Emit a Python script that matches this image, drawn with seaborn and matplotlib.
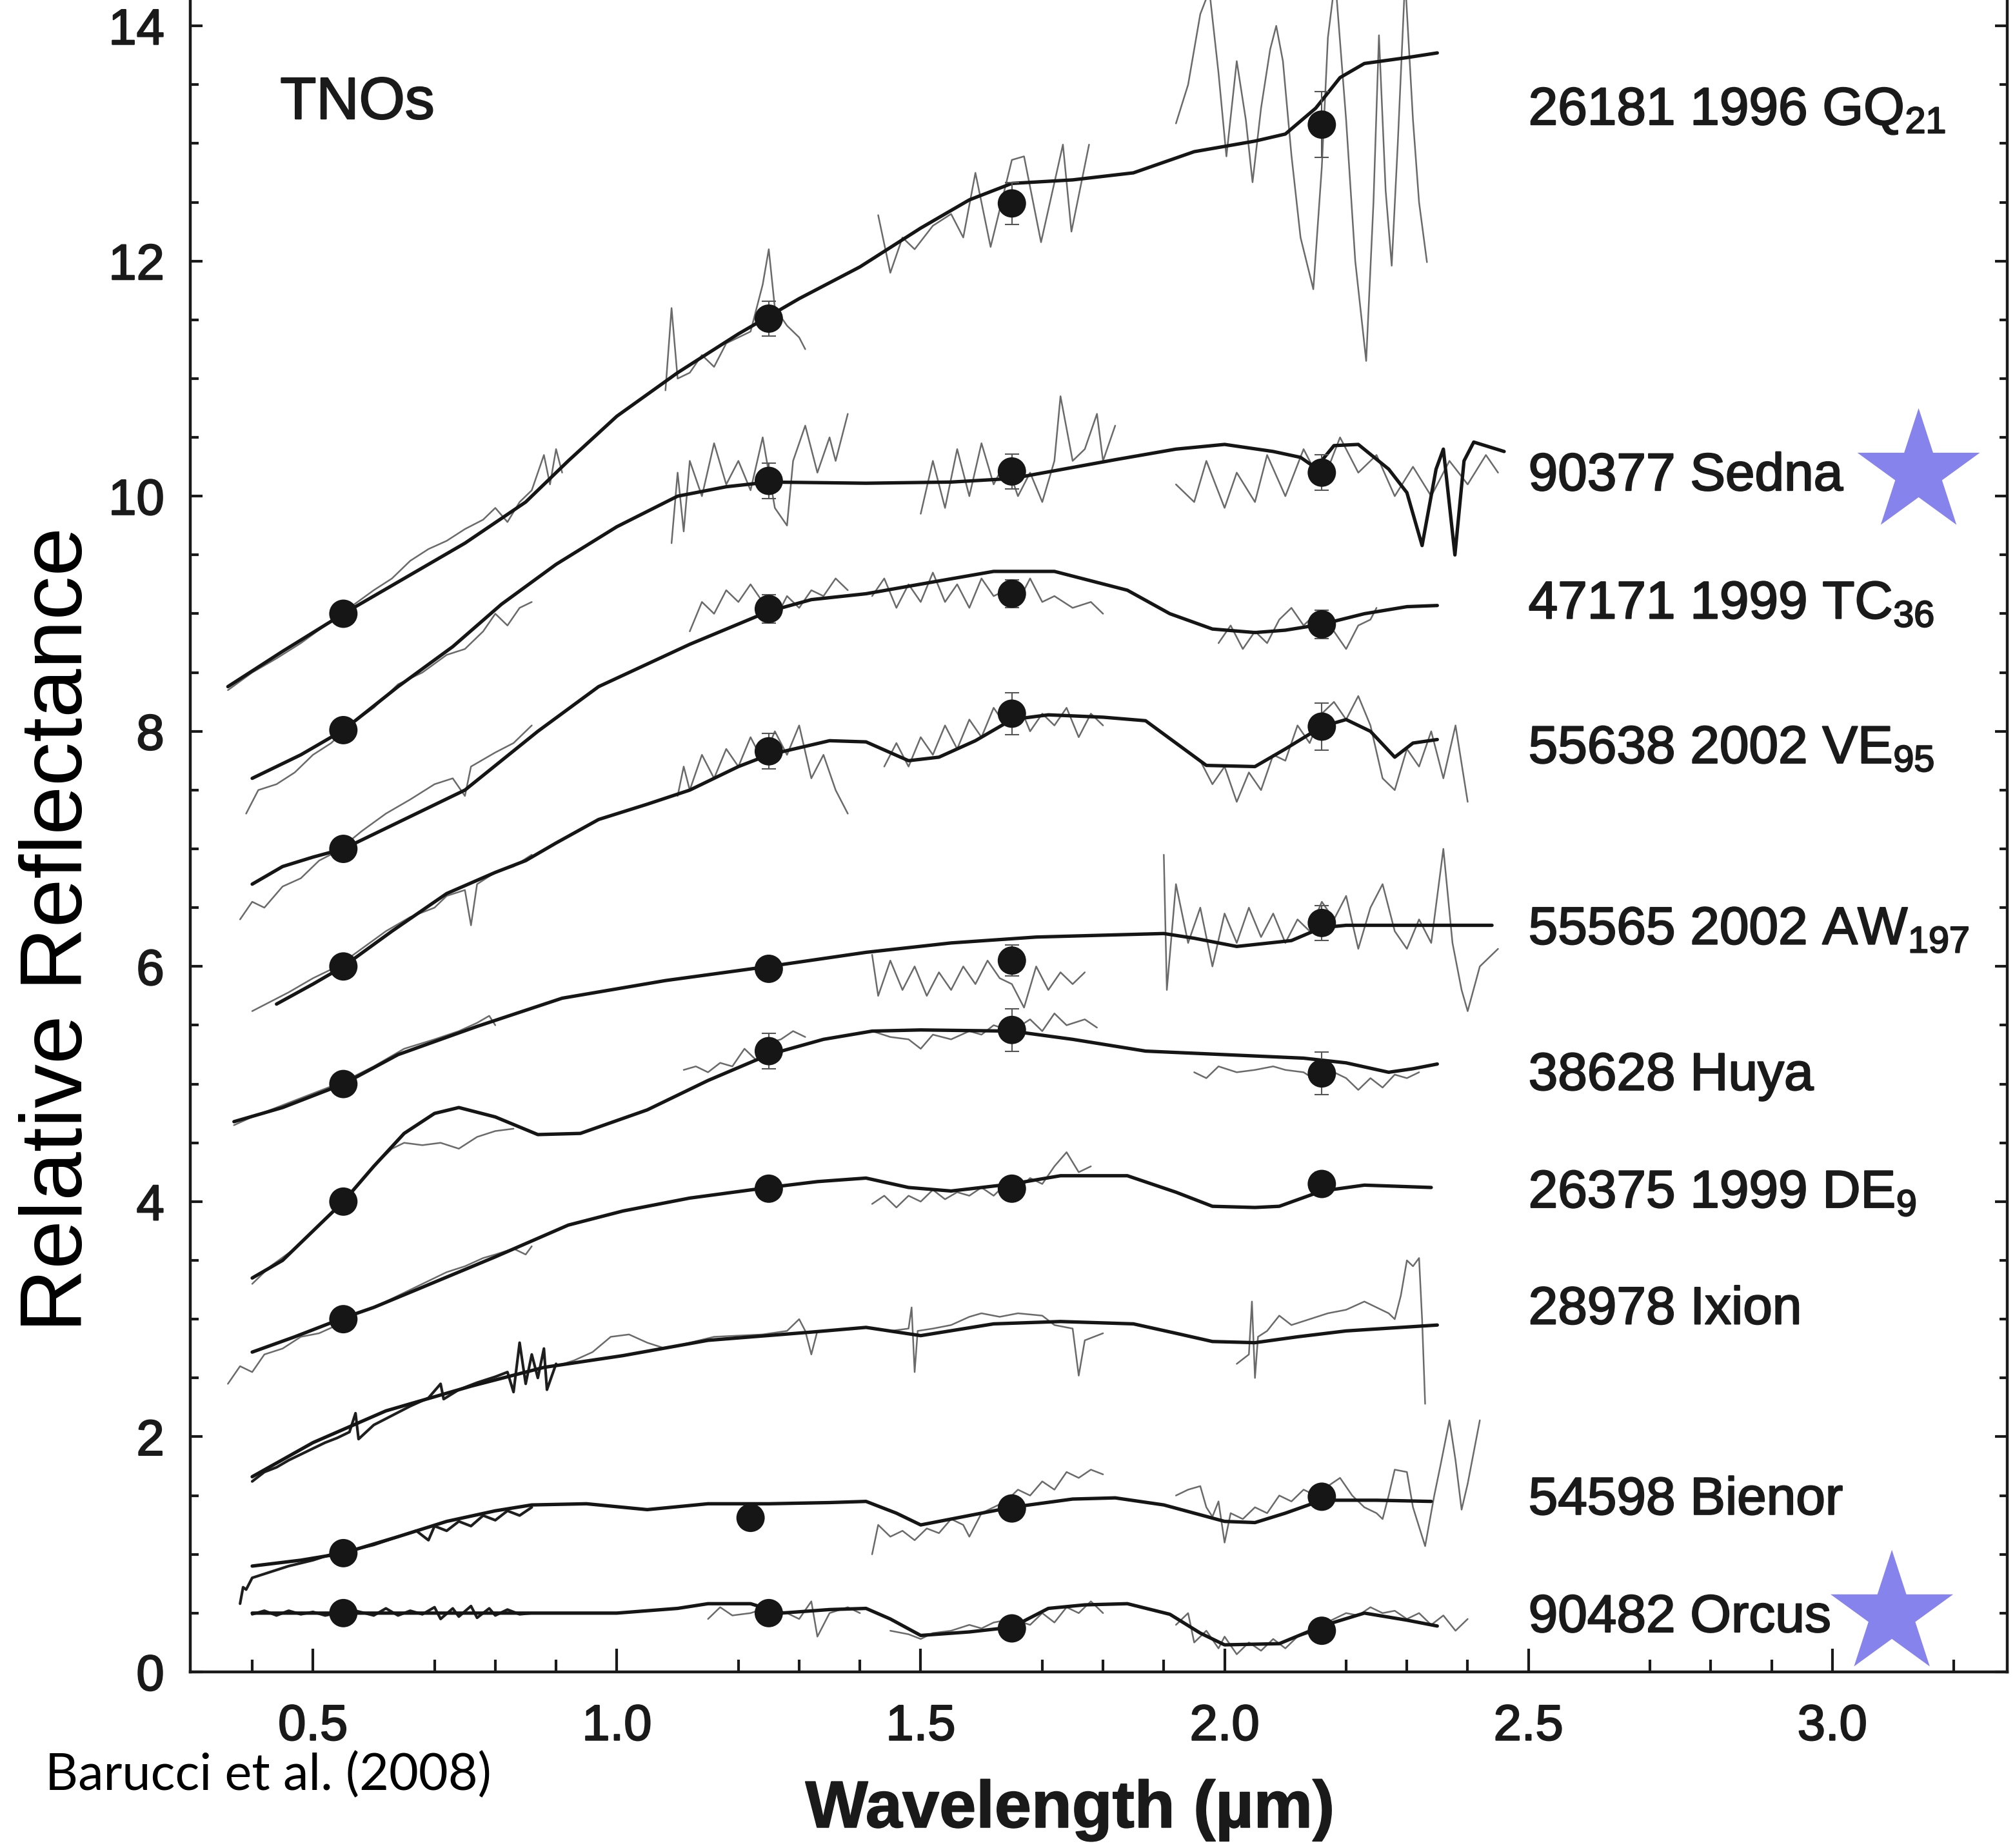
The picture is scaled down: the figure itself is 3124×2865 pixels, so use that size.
import pandas as pd
import seaborn as sns
import matplotlib.pyplot as plt
import matplotlib.patheffects as pe

# ---- data (wavelength um, relative reflectance) ----
names = ['26181 1996 GQ$_{21}$', '90377 Sedna', '47171 1999 TC$_{36}$', '55638 2002 VE$_{95}$',
         '55565 2002 AW$_{197}$', '38628 Huya', '26375 1999 DE$_{9}$', '28978 Ixion',
         '54598 Bienor', '90482 Orcus']
label_base = [13.16, 10.05, 8.96, 7.73, 6.19, 4.95, 3.95, 2.96, 1.34, 0.34]

# model fits (thick black)
gq21_model = [(0.36, 8.38), (0.45, 8.68), (0.55, 9.0), (0.65, 9.3), (0.75, 9.6), (0.85, 9.95), (0.92, 10.3),
              (1.0, 10.68), (1.1, 11.05), (1.2, 11.38), (1.3, 11.68), (1.4, 11.95), (1.5, 12.28), (1.58, 12.52),
              (1.65, 12.66), (1.75, 12.69), (1.85, 12.75), (1.95, 12.93), (2.05, 13.02), (2.1, 13.08),
              (2.15, 13.3), (2.19, 13.56), (2.23, 13.68), (2.3, 13.73), (2.35, 13.77)]
sedna_model = [(0.4, 7.6), (0.48, 7.8), (0.55, 8.01), (0.64, 8.38), (0.73, 8.72), (0.81, 9.08), (0.9, 9.42),
               (1.0, 9.74), (1.1, 10.0), (1.18, 10.08), (1.25, 10.12), (1.41, 10.11), (1.55, 10.12), (1.65, 10.15),
               (1.82, 10.31), (1.92, 10.4), (2.0, 10.44), (2.08, 10.38), (2.125, 10.33), (2.15, 10.24), (2.18, 10.43),
               (2.22, 10.44), (2.27, 10.23), (2.3, 10.03), (2.325, 9.58), (2.348, 10.23), (2.36, 10.4),
               (2.379, 9.5), (2.394, 10.3), (2.41, 10.46), (2.46, 10.38)]
tc36_model = [(0.4, 6.7), (0.45, 6.85), (0.5, 6.93), (0.55, 7.0), (0.65, 7.25), (0.75, 7.5), (0.87, 8.0),
              (0.97, 8.38), (1.12, 8.74), (1.25, 9.02), (1.32, 9.12), (1.41, 9.17), (1.52, 9.27), (1.62, 9.36),
              (1.72, 9.36), (1.84, 9.2), (1.91, 9.0), (1.98, 8.87), (2.05, 8.84), (2.1, 8.86), (2.16, 8.91),
              (2.23, 9.0), (2.3, 9.06), (2.35, 9.07)]
ve95_model = [(0.44, 5.68), (0.5, 5.85), (0.55, 6.0), (0.63, 6.3), (0.72, 6.62), (0.8, 6.8), (0.85, 6.9),
              (0.9, 7.05), (0.97, 7.25), (1.05, 7.38), (1.12, 7.5), (1.2, 7.7), (1.25, 7.8), (1.3, 7.86),
              (1.35, 7.92), (1.41, 7.91), (1.48, 7.75), (1.53, 7.78), (1.59, 7.92), (1.65, 8.1), (1.71, 8.14),
              (1.8, 8.12), (1.87, 8.09), (1.92, 7.9), (1.97, 7.71), (2.05, 7.7), (2.1, 7.85), (2.16, 8.04),
              (2.2, 8.1), (2.24, 8.0), (2.28, 7.78), (2.31, 7.9), (2.35, 7.93)]
aw197_model = [(0.37, 4.68), (0.45, 4.8), (0.55, 5.0), (0.64, 5.25), (0.77, 5.49), (0.91, 5.73), (1.08, 5.88),
               (1.25, 6.0), (1.41, 6.12), (1.55, 6.2), (1.69, 6.25), (1.9, 6.28), (1.95, 6.24), (2.02, 6.17),
               (2.11, 6.22), (2.16, 6.33), (2.2, 6.35), (2.3, 6.35), (2.44, 6.35)]
huya_model = [(0.4, 3.35), (0.45, 3.5), (0.5, 3.75), (0.55, 4.0), (0.6, 4.3), (0.65, 4.58), (0.7, 4.75),
              (0.74, 4.8), (0.8, 4.72), (0.87, 4.57), (0.94, 4.58), (1.05, 4.78), (1.15, 5.03), (1.25, 5.25),
              (1.34, 5.38), (1.42, 5.45), (1.5, 5.46), (1.65, 5.45), (1.75, 5.38), (1.87, 5.28), (2.0, 5.25),
              (2.13, 5.22), (2.2, 5.18), (2.27, 5.1), (2.31, 5.13), (2.35, 5.17)]
de9_model = [(0.4, 2.72), (0.47, 2.85), (0.55, 3.01), (0.6, 3.1), (0.67, 3.25), (0.8, 3.53), (0.92, 3.8),
             (1.01, 3.92), (1.12, 4.03), (1.25, 4.12), (1.33, 4.17), (1.41, 4.2), (1.48, 4.12), (1.55, 4.09),
             (1.65, 4.15), (1.73, 4.22), (1.84, 4.22), (1.92, 4.08), (1.98, 3.96), (2.05, 3.95), (2.09, 3.96),
             (2.16, 4.09), (2.23, 4.14), (2.34, 4.12)]
ixion_model = [(0.4, 1.66), (0.5, 1.95), (0.62, 2.22), (0.76, 2.43), (0.88, 2.59), (1.01, 2.69), (1.15, 2.82),
               (1.32, 2.89), (1.41, 2.93), (1.5, 2.86), (1.62, 2.96), (1.73, 2.98), (1.85, 2.96), (1.92, 2.88),
               (1.98, 2.81), (2.05, 2.8), (2.12, 2.85), (2.2, 2.9), (2.35, 2.95)]
bienor_model = [(0.4, 0.9), (0.48, 0.95), (0.55, 1.01), (0.64, 1.15), (0.72, 1.28), (0.8, 1.37), (0.86, 1.42),
                (0.95, 1.43), (1.05, 1.38), (1.15, 1.43), (1.25, 1.43), (1.35, 1.44), (1.41, 1.45), (1.46, 1.35),
                (1.5, 1.25), (1.58, 1.33), (1.65, 1.4), (1.75, 1.47), (1.82, 1.48), (1.9, 1.42), (2.0, 1.28),
                (2.05, 1.27), (2.1, 1.35), (2.16, 1.46), (2.25, 1.46), (2.34, 1.45)]
orcus_model = [(0.4, 0.5), (0.55, 0.5), (0.8, 0.5), (1.0, 0.5), (1.1, 0.54), (1.15, 0.58), (1.22, 0.58),
               (1.27, 0.5), (1.35, 0.53), (1.41, 0.54), (1.45, 0.45), (1.5, 0.31), (1.58, 0.34), (1.65, 0.38),
               (1.71, 0.54), (1.77, 0.57), (1.84, 0.58), (1.91, 0.49), (1.96, 0.33), (2.0, 0.23), (2.09, 0.24),
               (2.16, 0.39), (2.23, 0.5), (2.3, 0.44), (2.35, 0.39)]

# observed spectra (thin grey), one list per observed segment
gq21_spec = [
    [(0.36, 8.35), (0.4, 8.5), (0.44, 8.62), (0.48, 8.75), (0.52, 8.9), (0.56, 9.05), (0.6, 9.2), (0.63, 9.3),
     (0.66, 9.45), (0.69, 9.55), (0.72, 9.62), (0.75, 9.72), (0.78, 9.8), (0.8, 9.9), (0.82, 9.78),
     (0.84, 9.95), (0.86, 10.05), (0.88, 10.35), (0.89, 10.1), (0.9, 10.4), (0.91, 10.2)],
    [(1.08, 10.9), (1.09, 11.6), (1.1, 11.0), (1.12, 11.05), (1.14, 11.2), (1.16, 11.1), (1.18, 11.3),
     (1.2, 11.35), (1.22, 11.4), (1.24, 11.8), (1.25, 12.1), (1.26, 11.6), (1.28, 11.45), (1.3, 11.35),
     (1.31, 11.25)],
    [(1.43, 12.39), (1.45, 11.9), (1.47, 12.2), (1.49, 12.1), (1.52, 12.3), (1.55, 12.4), (1.57, 12.2),
     (1.59, 12.75), (1.615, 12.12), (1.65, 12.86), (1.67, 12.89), (1.698, 12.16), (1.734, 12.99),
     (1.748, 12.25), (1.777, 12.99)],
    [(1.92, 13.17), (1.94, 13.5), (1.96, 14.1), (1.975, 14.3), (1.99, 13.6), (2.003, 12.89), (2.02, 13.7),
     (2.035, 13.2), (2.046, 12.67), (2.06, 13.3), (2.075, 13.8), (2.085, 14.0), (2.096, 13.7), (2.11, 12.9),
     (2.125, 12.2), (2.146, 11.76), (2.16, 12.8), (2.17, 13.9), (2.182, 14.4), (2.2, 13.2), (2.215, 12.0),
     (2.233, 11.15), (2.245, 12.5), (2.254, 13.92), (2.265, 12.6), (2.275, 11.96), (2.285, 13.0),
     (2.297, 14.4), (2.31, 13.2), (2.32, 12.5), (2.333, 11.99)]]
sedna_spec = [
    [(0.39, 7.3), (0.41, 7.5), (0.44, 7.55), (0.47, 7.65), (0.5, 7.8), (0.53, 7.9), (0.56, 8.05), (0.6, 8.2),
     (0.64, 8.4), (0.68, 8.5), (0.72, 8.65), (0.75, 8.7), (0.78, 8.85), (0.8, 9.0), (0.82, 8.9), (0.84, 9.05),
     (0.86, 9.1)],
    [(1.09, 9.6), (1.1, 10.2), (1.11, 9.7), (1.12, 10.3), (1.14, 10.0), (1.16, 10.45), (1.18, 10.1),
     (1.2, 10.3), (1.22, 10.05), (1.24, 10.5), (1.26, 9.9), (1.28, 9.75), (1.29, 10.3), (1.31, 10.6),
     (1.33, 10.2), (1.35, 10.5), (1.36, 10.3), (1.38, 10.7)],
    [(1.5, 9.85), (1.52, 10.3), (1.54, 9.9), (1.56, 10.4), (1.58, 10.0), (1.6, 10.45), (1.62, 10.1),
     (1.64, 10.3), (1.66, 10.0), (1.68, 10.2), (1.7, 9.95), (1.72, 10.3), (1.73, 10.85), (1.75, 10.3),
     (1.77, 10.4), (1.79, 10.7), (1.8, 10.3), (1.82, 10.6)],
    [(1.92, 10.1), (1.95, 9.95), (1.97, 10.3), (2.0, 9.9), (2.02, 10.2), (2.05, 9.95), (2.07, 10.35),
     (2.1, 10.0), (2.13, 10.4), (2.16, 10.1), (2.19, 10.5), (2.22, 10.2), (2.25, 10.35), (2.28, 10.0),
     (2.31, 10.25), (2.34, 10.0), (2.37, 10.3), (2.4, 10.1), (2.43, 10.35), (2.45, 10.2)]]
tc36_spec = [
    [(0.38, 6.4), (0.4, 6.55), (0.42, 6.5), (0.45, 6.68), (0.48, 6.75), (0.51, 6.9), (0.54, 6.98),
     (0.58, 7.15), (0.62, 7.3), (0.66, 7.42), (0.7, 7.55), (0.73, 7.6), (0.75, 7.45), (0.76, 7.7),
     (0.8, 7.82), (0.83, 7.9), (0.86, 8.05)],
    [(1.12, 8.85), (1.14, 9.1), (1.16, 9.0), (1.18, 9.2), (1.2, 9.1), (1.22, 9.25), (1.24, 9.1),
     (1.26, 8.95), (1.28, 9.15), (1.3, 9.05), (1.32, 9.2), (1.34, 9.15), (1.36, 9.3), (1.38, 9.2)],
    [(1.42, 9.15), (1.44, 9.3), (1.46, 9.05), (1.48, 9.25), (1.5, 9.1), (1.52, 9.35), (1.54, 9.1),
     (1.56, 9.25), (1.58, 9.05), (1.6, 9.3), (1.62, 9.15), (1.64, 9.2), (1.66, 9.1), (1.68, 9.3),
     (1.7, 9.1), (1.72, 9.15), (1.75, 9.05), (1.78, 9.1), (1.8, 9.0)],
    [(1.99, 8.75), (2.01, 8.9), (2.03, 8.7), (2.05, 8.85), (2.07, 8.75), (2.09, 8.95), (2.11, 9.05),
     (2.13, 8.9), (2.15, 9.0), (2.18, 8.85), (2.2, 8.7), (2.22, 8.9), (2.24, 8.95), (2.25, 9.05)]]
ve95_spec = [
    [(0.4, 5.62), (0.43, 5.7), (0.46, 5.78), (0.5, 5.9), (0.54, 6.0), (0.58, 6.15), (0.62, 6.3),
     (0.66, 6.42), (0.7, 6.5), (0.72, 6.6), (0.75, 6.65), (0.76, 6.35), (0.77, 6.7), (0.8, 6.8),
     (0.83, 6.85), (0.86, 6.95)],
    [(1.1, 7.45), (1.11, 7.7), (1.12, 7.5), (1.14, 7.8), (1.16, 7.6), (1.18, 7.85), (1.2, 7.7),
     (1.22, 7.95), (1.24, 7.75), (1.26, 8.0), (1.28, 7.8), (1.3, 8.05), (1.32, 7.6), (1.34, 7.8),
     (1.36, 7.5), (1.38, 7.3)],
    [(1.44, 7.7), (1.46, 7.9), (1.48, 7.7), (1.5, 7.95), (1.52, 7.8), (1.54, 8.05), (1.56, 7.85),
     (1.58, 8.1), (1.6, 7.95), (1.62, 8.2), (1.64, 8.05), (1.66, 8.25), (1.68, 8.0), (1.7, 8.15),
     (1.72, 8.05), (1.74, 8.2), (1.76, 7.95), (1.78, 8.15), (1.8, 8.05)],
    [(1.96, 7.75), (1.98, 7.55), (2.0, 7.7), (2.02, 7.4), (2.04, 7.65), (2.06, 7.5), (2.08, 7.8),
     (2.1, 7.75), (2.12, 8.05), (2.14, 7.9), (2.16, 8.15), (2.18, 8.25), (2.2, 8.1), (2.22, 8.3),
     (2.24, 8.05), (2.26, 7.6), (2.28, 7.5), (2.3, 7.85), (2.32, 7.7), (2.34, 8.0), (2.36, 7.6),
     (2.38, 8.05), (2.4, 7.4)]]
aw197_spec = [
    [(0.37, 4.65), (0.4, 4.72), (0.45, 4.82), (0.5, 4.92), (0.55, 5.02), (0.6, 5.15), (0.65, 5.3),
     (0.7, 5.38), (0.74, 5.45), (0.77, 5.52), (0.79, 5.58), (0.8, 5.5)],
    [(1.42, 6.1), (1.43, 5.75), (1.45, 6.05), (1.47, 5.8), (1.49, 6.0), (1.51, 5.75), (1.53, 5.95),
     (1.55, 5.8), (1.57, 6.0), (1.59, 5.85), (1.61, 6.05), (1.63, 5.9), (1.65, 5.85), (1.67, 5.65),
     (1.69, 6.0), (1.71, 5.8), (1.73, 5.95), (1.75, 5.85), (1.77, 5.95)],
    [(1.9, 6.95), (1.905, 5.8), (1.92, 6.7), (1.94, 6.2), (1.96, 6.5), (1.98, 6.0), (2.0, 6.45),
     (2.02, 6.2), (2.04, 6.5), (2.06, 6.25), (2.08, 6.45), (2.1, 6.2), (2.12, 6.4), (2.14, 6.3),
     (2.16, 6.55), (2.18, 6.4), (2.2, 6.6), (2.22, 6.15), (2.24, 6.5), (2.26, 6.7), (2.28, 6.3),
     (2.3, 6.15), (2.32, 6.4), (2.34, 6.2), (2.36, 7.0), (2.375, 6.2), (2.39, 5.8), (2.4, 5.62),
     (2.42, 6.0), (2.45, 6.15)]]
huya_spec = [
    [(0.4, 3.3), (0.43, 3.45), (0.47, 3.6), (0.5, 3.75), (0.53, 3.9), (0.56, 4.05), (0.6, 4.3),
     (0.63, 4.45), (0.65, 4.5), (0.68, 4.48), (0.71, 4.5), (0.74, 4.45), (0.77, 4.55), (0.8, 4.6),
     (0.83, 4.62)],
    [(1.11, 5.12), (1.13, 5.15), (1.15, 5.1), (1.17, 5.18), (1.19, 5.15), (1.21, 5.3), (1.23, 5.2),
     (1.25, 5.35), (1.27, 5.38), (1.29, 5.45), (1.31, 5.4)],
    [(1.42, 5.45), (1.45, 5.4), (1.48, 5.38), (1.5, 5.3), (1.52, 5.42), (1.55, 5.38), (1.58, 5.45),
     (1.6, 5.42), (1.62, 5.5), (1.65, 5.45), (1.68, 5.55), (1.7, 5.45), (1.72, 5.6), (1.74, 5.5),
     (1.77, 5.55), (1.79, 5.48)],
    [(1.95, 5.1), (1.97, 5.05), (1.99, 5.15), (2.02, 5.1), (2.05, 5.12), (2.08, 5.15), (2.1, 5.12),
     (2.13, 5.1), (2.16, 5.0), (2.18, 5.1), (2.2, 5.05), (2.22, 4.95), (2.24, 5.05), (2.26, 4.97),
     (2.28, 5.08), (2.3, 5.05), (2.32, 5.1)]]
de9_spec = [
    [(0.36, 2.45), (0.38, 2.6), (0.4, 2.55), (0.42, 2.7), (0.45, 2.75), (0.48, 2.85), (0.51, 2.88),
     (0.54, 2.95), (0.57, 3.05), (0.6, 3.1), (0.64, 3.2), (0.68, 3.3), (0.72, 3.4), (0.75, 3.45),
     (0.78, 3.52), (0.8, 3.55), (0.83, 3.6), (0.85, 3.55), (0.86, 3.62)],
    [(1.42, 3.98), (1.44, 4.05), (1.46, 3.95), (1.48, 4.05), (1.5, 4.0), (1.52, 4.1), (1.54, 4.02),
     (1.56, 4.08), (1.58, 4.05), (1.6, 4.12), (1.62, 4.05), (1.64, 4.15), (1.66, 4.1), (1.68, 4.2),
     (1.7, 4.15), (1.72, 4.3), (1.74, 4.42), (1.76, 4.25), (1.78, 4.3)]]
ixion_spec = [
    [(0.9, 2.6), (0.93, 2.65), (0.96, 2.72), (0.99, 2.85), (1.02, 2.87), (1.05, 2.8), (1.08, 2.75),
     (1.12, 2.8), (1.16, 2.85), (1.2, 2.86), (1.24, 2.87), (1.28, 2.9), (1.3, 3.0), (1.31, 2.9),
     (1.32, 2.7), (1.33, 2.9)],
    [(1.42, 2.92), (1.45, 2.9), (1.48, 2.92), (1.485, 3.1), (1.49, 2.55), (1.495, 2.9), (1.52, 2.92),
     (1.55, 2.95), (1.58, 3.02), (1.6, 3.05), (1.63, 3.02), (1.66, 3.05), (1.7, 3.03), (1.72, 2.95),
     (1.75, 2.92), (1.76, 2.52), (1.77, 2.82), (1.8, 2.88)],
    [(2.02, 2.62), (2.04, 2.7), (2.045, 3.15), (2.05, 2.5), (2.055, 2.85), (2.07, 2.9), (2.09, 3.03),
     (2.11, 2.95), (2.14, 3.0), (2.17, 3.05), (2.2, 3.08), (2.23, 3.15), (2.25, 3.1), (2.27, 3.05),
     (2.28, 3.0), (2.29, 3.2), (2.3, 3.5), (2.31, 3.45), (2.32, 3.52), (2.325, 3.0), (2.33, 2.28)]]
bienor_spec = [
    [(1.42, 1.0), (1.43, 1.25), (1.45, 1.15), (1.47, 1.2), (1.49, 1.12), (1.51, 1.22), (1.53, 1.18),
     (1.55, 1.3), (1.57, 1.25), (1.58, 1.15), (1.6, 1.35), (1.62, 1.4), (1.64, 1.45), (1.66, 1.55),
     (1.68, 1.5), (1.7, 1.62), (1.72, 1.55), (1.74, 1.7), (1.76, 1.65), (1.78, 1.72), (1.8, 1.68)],
    [(1.92, 1.5), (1.94, 1.55), (1.96, 1.58), (1.97, 1.4), (1.98, 1.32), (1.99, 1.45), (2.0, 1.1),
     (2.01, 1.35), (2.03, 1.3), (2.05, 1.4), (2.07, 1.35), (2.09, 1.5), (2.11, 1.45), (2.13, 1.55),
     (2.15, 1.5), (2.17, 1.58), (2.19, 1.65), (2.21, 1.5), (2.23, 1.4), (2.25, 1.35), (2.26, 1.3),
     (2.27, 1.5), (2.28, 1.72), (2.3, 1.7), (2.31, 1.4), (2.33, 1.07), (2.345, 1.5), (2.355, 1.75),
     (2.37, 2.14), (2.38, 1.8), (2.39, 1.38), (2.4, 1.6), (2.42, 2.14)]]
orcus_spec = [
    [(1.15, 0.45), (1.17, 0.55), (1.19, 0.48), (1.22, 0.5), (1.25, 0.55), (1.28, 0.5), (1.3, 0.45),
     (1.32, 0.6), (1.33, 0.3), (1.35, 0.5), (1.38, 0.55), (1.4, 0.5)],
    [(1.45, 0.35), (1.48, 0.32), (1.5, 0.28), (1.52, 0.33), (1.55, 0.35), (1.58, 0.4), (1.6, 0.37),
     (1.62, 0.42), (1.65, 0.45), (1.68, 0.4), (1.7, 0.5), (1.72, 0.42), (1.74, 0.55), (1.76, 0.5),
     (1.78, 0.6), (1.8, 0.5)],
    [(1.92, 0.4), (1.94, 0.5), (1.95, 0.25), (1.97, 0.35), (1.99, 0.2), (2.0, 0.3), (2.02, 0.15),
     (2.04, 0.25), (2.06, 0.18), (2.08, 0.28), (2.1, 0.2), (2.12, 0.3), (2.14, 0.33), (2.16, 0.4),
     (2.18, 0.45), (2.2, 0.5), (2.22, 0.48), (2.24, 0.55), (2.26, 0.5), (2.28, 0.52), (2.3, 0.45),
     (2.32, 0.5), (2.34, 0.4), (2.36, 0.48), (2.38, 0.35), (2.4, 0.45)]]

# dense visible spectra drawn dark (Ixion, Bienor, Orcus)
dark_spec = [
    [(0.4, 1.62), (0.42, 1.7), (0.44, 1.74), (0.46, 1.8), (0.48, 1.85), (0.5, 1.9), (0.52, 1.95),
     (0.54, 1.99), (0.56, 2.04), (0.57, 2.2), (0.575, 1.98), (0.6, 2.1), (0.63, 2.18), (0.66, 2.26),
     (0.69, 2.33), (0.71, 2.45), (0.715, 2.32), (0.74, 2.4), (0.77, 2.46), (0.8, 2.51), (0.82, 2.55),
     (0.83, 2.38), (0.84, 2.8), (0.85, 2.45), (0.86, 2.7), (0.87, 2.5), (0.88, 2.75), (0.885, 2.4),
     (0.9, 2.62)],
    [(0.38, 0.58), (0.385, 0.72), (0.39, 0.7), (0.4, 0.8), (0.43, 0.85), (0.46, 0.9), (0.5, 0.95),
     (0.53, 1.0), (0.56, 1.03), (0.6, 1.08), (0.64, 1.15), (0.67, 1.2), (0.69, 1.12), (0.7, 1.24),
     (0.72, 1.2), (0.74, 1.28), (0.76, 1.24), (0.78, 1.33), (0.8, 1.29), (0.82, 1.37), (0.84, 1.33),
     (0.86, 1.4)],
    [(0.4, 0.49), (0.42, 0.52), (0.44, 0.48), (0.46, 0.52), (0.48, 0.49), (0.5, 0.51), (0.52, 0.48),
     (0.54, 0.5), (0.57, 0.52), (0.6, 0.48), (0.62, 0.54), (0.64, 0.48), (0.66, 0.52), (0.68, 0.49),
     (0.7, 0.55), (0.71, 0.45), (0.73, 0.54), (0.74, 0.47), (0.76, 0.56), (0.77, 0.46), (0.79, 0.54),
     (0.8, 0.48), (0.82, 0.53), (0.84, 0.49), (0.86, 0.5)]]

# photometric points (V, J, H, K) with error bars
dot_x = [0.55, 1.25, 1.65, 2.16,  0.55, 1.25, 1.65, 2.16,  0.55, 1.25, 1.65, 2.16,  0.55, 1.25, 1.65, 2.16,
         0.55, 1.25, 1.65, 2.16,  0.55, 1.25, 1.65, 2.16,  0.55, 1.25, 1.65, 2.16,
         0.55, 1.22, 1.65, 2.16,  0.55, 1.25, 1.65, 2.16]
dot_y = [9.0, 11.51, 12.49, 13.16,  8.01, 10.13, 10.21, 10.2,  7.0, 9.04, 9.17, 8.91,  6.0, 7.83, 8.15, 8.04,
         5.0, 5.98, 6.05, 6.37,  4.0, 5.28, 5.46, 5.09,  3.0, 4.11, 4.11, 4.15,
         1.01, 1.31, 1.39, 1.49,  0.5, 0.5, 0.37, 0.35]
dot_err = [0.0, 0.15, 0.18, 0.28,  0.0, 0.15, 0.15, 0.15,  0.0, 0.12, 0.12, 0.12,  0.0, 0.15, 0.18, 0.2,
           0.0, 0.0, 0.13, 0.15,  0.0, 0.15, 0.18, 0.18,  0.0, 0.0, 0.0, 0.1,
           0.0, 0.0, 0.0, 0.0,  0.0, 0.0, 0.0, 0.0]

star_x = [3.142, 3.098]
star_y = [10.2, 0.49]

models = [gq21_model, sedna_model, tc36_model, ve95_model, aw197_model, huya_model,
          de9_model, ixion_model, bienor_model, orcus_model]
spectra = [gq21_spec, sedna_spec, tc36_spec, ve95_spec, aw197_spec, huya_spec,
           de9_spec, ixion_spec, bienor_spec, orcus_spec]


def to_frame(segments):
    rows = []
    for k, seg in enumerate(segments):
        for x, y in seg:
            rows.append({'seg': k, 'x': x, 'y': y})
    return pd.DataFrame(rows)


model_df = to_frame(models)
spec_df = to_frame([seg for obj in spectra for seg in obj])
dark_df = to_frame(dark_spec)
dots_df = pd.DataFrame({'x': dot_x, 'y': dot_y, 'err': dot_err})
stars_df = pd.DataFrame({'x': star_x, 'y': star_y})

sns.set_style('ticks')
plt.rcParams['font.family'] = ['Liberation Sans', 'DejaVu Sans']
plt.rcParams['mathtext.fontset'] = 'custom'
plt.rcParams['mathtext.rm'] = 'Liberation Sans'
plt.rcParams['mathtext.default'] = 'regular'

ink = '#1a1a1a'
heavy = [pe.withStroke(linewidth=1.6, foreground=ink)]

fig = plt.figure(figsize=(31.24, 28.65), dpi=100)
ax = fig.add_axes([0.0944, 0.0953, 0.9018, 0.9047])

sns.lineplot(data=spec_df, x='x', y='y', units='seg', estimator=None, sort=False,
             color='#6a6a6a', linewidth=1.8, ax=ax, legend=False)
sns.lineplot(data=dark_df, x='x', y='y', units='seg', estimator=None, sort=False,
             color='#1e1e1e', linewidth=3.0, ax=ax, legend=False)
sns.lineplot(data=model_df, x='x', y='y', units='seg', estimator=None, sort=False,
             color='#151515', linewidth=3.8, ax=ax, legend=False)

e = dots_df[dots_df['err'] > 0]
ax.errorbar(e['x'], e['y'], yerr=e['err'], fmt='none', ecolor='#555555', elinewidth=1.5,
            capsize=8, capthick=1.5, zorder=4)
sns.scatterplot(data=dots_df, x='x', y='y', s=1000, color='#161616', edgecolor='none',
                zorder=5, ax=ax, legend=False)
sns.scatterplot(data=stars_df, x='x', y='y', marker='*', s=20700, color='#8783ec',
                edgecolor='none', zorder=6, ax=ax, legend=False, clip_on=False)

for name, yb in zip(names, label_base):
    ax.text(2.5, yb, name, fontsize=59, color=ink, ha='left', va='baseline', path_effects=heavy)
ax.text(0.446, 13.21, 'TNOs', fontsize=66, color=ink, ha='left', va='baseline', path_effects=heavy)

ax.set_xlim(0.298, 3.288)
ax.set_ylim(0, 14.22)
ax.set_xticks([0.5, 1.0, 1.5, 2.0, 2.5, 3.0])
ax.set_xticks([0.4 + 0.1 * i for i in range(29) if (i + 4) % 5 != 1], minor=True)
ax.set_yticks([0, 2, 4, 6, 8, 10, 12, 14])
ax.set_yticks([0.5 * i for i in range(29) if i % 4 != 0], minor=True)
ax.set_xticklabels(['0.5', '1.0', '1.5', '2.0', '2.5', '3.0'])
ax.set_yticklabels(['0', '2', '4', '6', '8', '10', '12', '14'])
ax.set_xlabel('')
ax.set_ylabel('')
ax.tick_params(axis='both', which='both', direction='in', width=3, colors=ink, labelsize=56)
ax.tick_params(axis='y', which='both', left=True, right=True, pad=29)
ax.tick_params(axis='y', which='major', length=14)
ax.tick_params(axis='y', which='minor', length=9)
ax.tick_params(axis='x', which='both', bottom=True, top=False, pad=35)
ax.tick_params(axis='x', which='major', length=26)
ax.tick_params(axis='x', which='minor', length=14)
for lab in ax.get_xticklabels() + ax.get_yticklabels():
    lab.set_path_effects(heavy)
for s in ['left', 'right', 'bottom']:
    ax.spines[s].set_linewidth(3.2)
    ax.spines[s].set_color(ink)
ax.spines['top'].set_visible(False)

fig.text(0.531, 0.0112, 'Wavelength (µm)', fontsize=74, fontweight='bold', color=ink,
         ha='center', va='baseline', path_effects=[pe.withStroke(linewidth=1.2, foreground=ink)])
fig.text(0.0295, 0.497, 'Relative Reflectance', fontsize=98, rotation=90, color='black',
         ha='center', va='center')
fig.text(0.0224, 0.0314, 'Barucci et al. (2008)', fontsize=57, family=['Lato', 'DejaVu Sans'],
         color='black', ha='left', va='baseline')

fig.savefig('out.png', dpi=100, facecolor='white')
